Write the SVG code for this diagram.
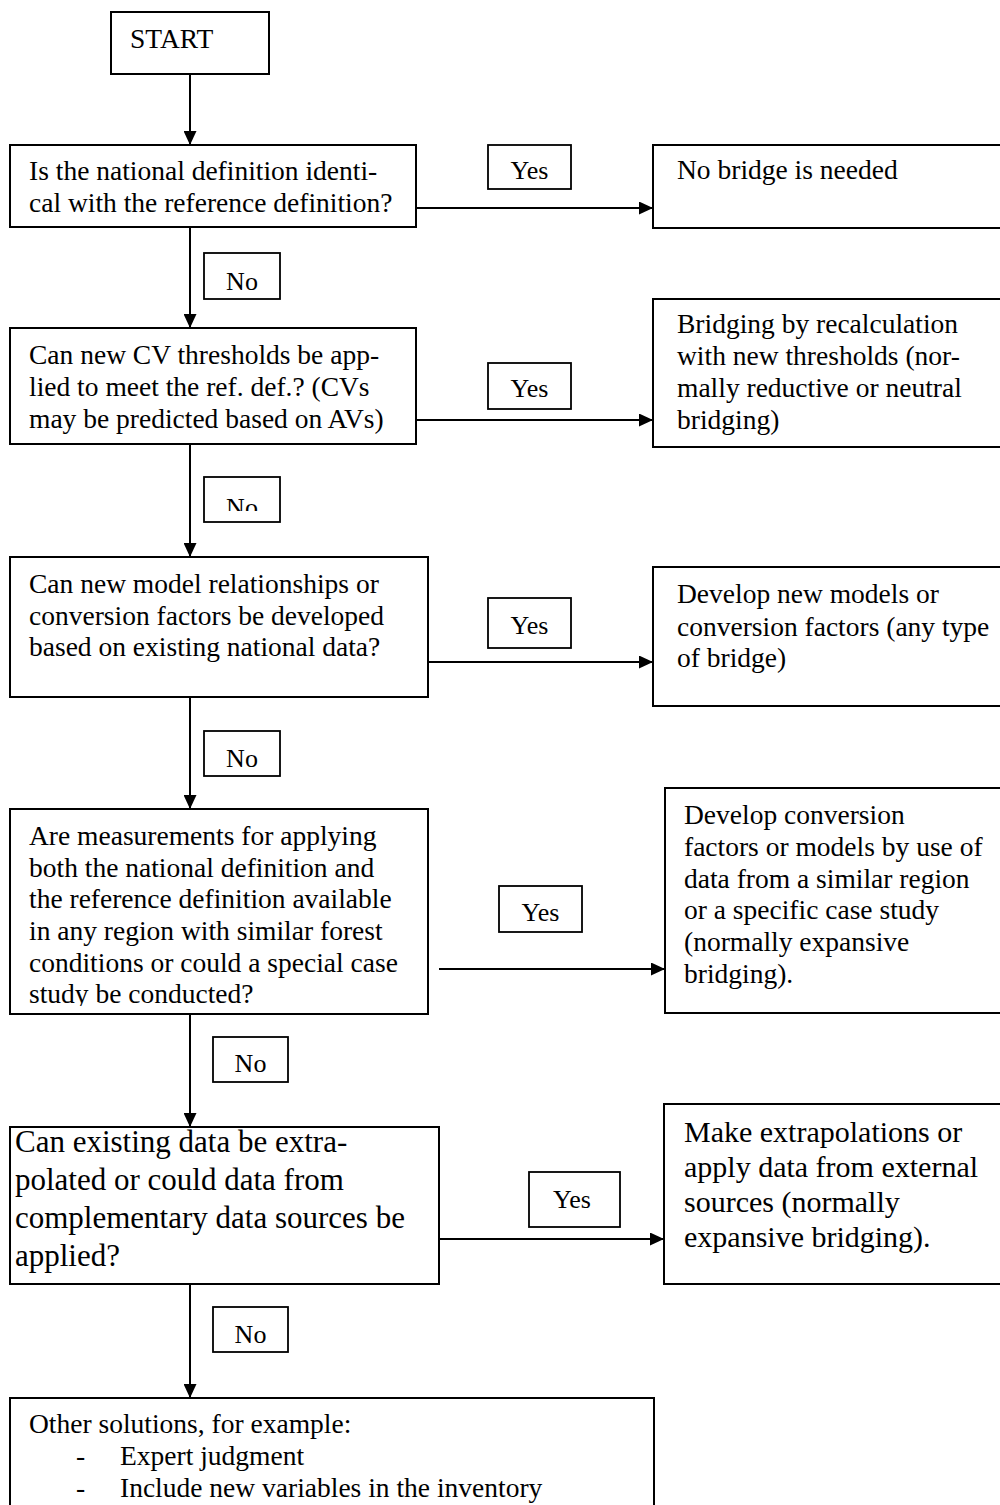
<svg xmlns="http://www.w3.org/2000/svg" width="1000" height="1505" viewBox="0 0 1000 1505">
<style>
.box{fill:#fff;stroke:#000;stroke-width:2}
.lbl{fill:#fff;stroke:#000;stroke-width:1.8}
.t{font-family:"Liberation Serif","Times New Roman",serif;font-size:27.5px;fill:#000}
.tb{font-family:"Liberation Serif","Times New Roman",serif;font-size:31px;fill:#000}
.tr{font-family:"Liberation Serif","Times New Roman",serif;font-size:30px;fill:#000}
.tl{font-family:"Liberation Serif","Times New Roman",serif;font-size:26px;fill:#000;text-anchor:middle}
.c{stroke:#000;stroke-width:2;fill:none;marker-end:url(#ah)}
</style>
<defs>
<marker id="ah" markerUnits="userSpaceOnUse" markerWidth="14" markerHeight="13" viewBox="0 0 14 13" refX="14" refY="6.5" orient="auto">
<path d="M0,0 L14,6.5 L0,13 z" fill="#000"/>
</marker>
<clipPath id="clipNo2"><rect x="204" y="477" width="76" height="34"/></clipPath>
<clipPath id="clipB4"><rect x="10" y="809" width="418" height="197"/></clipPath>
</defs>
<rect width="1000" height="1505" fill="#fff"/>

<g id="connectors">
<line class="c" x1="190" y1="74" x2="190" y2="145"/>
<line class="c" x1="190" y1="227" x2="190" y2="328"/>
<line class="c" x1="190" y1="444" x2="190" y2="557"/>
<line class="c" x1="190" y1="697" x2="190" y2="809"/>
<line class="c" x1="190" y1="1014" x2="190" y2="1127"/>
<line class="c" x1="190" y1="1284" x2="190" y2="1398"/>
<line class="c" x1="416" y1="208" x2="653" y2="208"/>
<line class="c" x1="416" y1="420" x2="653" y2="420"/>
<line class="c" x1="428" y1="662" x2="653" y2="662"/>
<line class="c" x1="439" y1="969" x2="665" y2="969"/>
<line class="c" x1="439" y1="1239" x2="664" y2="1239"/>
</g>

<g id="start">
<rect class="box" x="111" y="12" width="158" height="62"/>
<text class="t" x="130" y="48">START</text>
</g>

<g id="q1">
<rect class="box" x="10" y="145" width="406" height="82"/>
<text class="t" x="29" y="180">Is the national definition identi-</text>
<text class="t" x="29" y="212">cal with the reference definition?</text>
</g>
<g id="yes1">
<rect class="lbl" x="488" y="145" width="83" height="44"/>
<text class="tl" x="529.5" y="179">Yes</text>
</g>
<g id="r1">
<rect class="box" x="653" y="145" width="360" height="83"/>
<text class="t" x="677" y="179">No bridge is needed</text>
</g>
<g id="no1">
<rect class="lbl" x="204" y="253" width="76" height="46"/>
<text class="tl" x="242" y="290">No</text>
</g>

<g id="q2">
<rect class="box" x="10" y="328" width="406" height="116"/>
<text class="t" x="29" y="364">Can new CV thresholds be app-</text>
<text class="t" x="29" y="396">lied to meet the ref. def.? (CVs</text>
<text class="t" x="29" y="428">may be predicted based on AVs)</text>
</g>
<g id="yes2">
<rect class="lbl" x="488" y="363" width="83" height="46"/>
<text class="tl" x="529.5" y="397">Yes</text>
</g>
<g id="r2">
<rect class="box" x="653" y="299" width="360" height="148"/>
<text class="t" x="677" y="333">Bridging by recalculation</text>
<text class="t" x="677" y="365">with new thresholds (nor-</text>
<text class="t" x="677" y="397">mally reductive or neutral</text>
<text class="t" x="677" y="429">bridging)</text>
</g>
<g id="no2">
<rect class="lbl" x="204" y="477" width="76" height="45"/>
<text class="tl" x="242" y="516" clip-path="url(#clipNo2)">No</text>
</g>

<g id="q3">
<rect class="box" x="10" y="557" width="418" height="140"/>
<text class="t" x="29" y="593">Can new model relationships or</text>
<text class="t" x="29" y="625">conversion factors be developed</text>
<text class="t" x="29" y="656">based on existing national data?</text>
</g>
<g id="yes3">
<rect class="lbl" x="488" y="598" width="83" height="50"/>
<text class="tl" x="529.5" y="634">Yes</text>
</g>
<g id="r3">
<rect class="box" x="653" y="567" width="360" height="139"/>
<text class="t" x="677" y="603">Develop new models or</text>
<text class="t" x="677" y="636">conversion factors (any type</text>
<text class="t" x="677" y="667">of bridge)</text>
</g>
<g id="no3">
<rect class="lbl" x="204" y="731" width="76" height="45"/>
<text class="tl" x="242" y="767">No</text>
</g>

<g id="q4">
<rect class="box" x="10" y="809" width="418" height="205"/>
<g clip-path="url(#clipB4)">
<text class="t" x="29" y="845">Are measurements for applying</text>
<text class="t" x="29" y="877">both the national definition and</text>
<text class="t" x="29" y="908">the reference definition available</text>
<text class="t" x="29" y="940">in any region with similar forest</text>
<text class="t" x="29" y="972">conditions or could a special case</text>
<text class="t" x="29" y="1003">study be conducted?</text>
</g>
</g>
<g id="yes4">
<rect class="lbl" x="499" y="886" width="83" height="46"/>
<text class="tl" x="540.5" y="921">Yes</text>
</g>
<g id="r4">
<rect class="box" x="665" y="788" width="350" height="225"/>
<text class="t" x="684" y="824">Develop conversion</text>
<text class="t" x="684" y="856">factors or models by use of</text>
<text class="t" x="684" y="888">data from a similar region</text>
<text class="t" x="684" y="919">or a specific case study</text>
<text class="t" x="684" y="951">(normally expansive</text>
<text class="t" x="684" y="983">bridging).</text>
</g>
<g id="no4">
<rect class="lbl" x="213" y="1037" width="75" height="45"/>
<text class="tl" x="250.5" y="1072">No</text>
</g>

<g id="q5">
<rect class="box" x="10" y="1127" width="429" height="157"/>
<text class="tb" x="15" y="1152">Can existing data be extra-</text>
<text class="tb" x="15" y="1190">polated or could data from</text>
<text class="tb" x="15" y="1228">complementary data sources be</text>
<text class="tb" x="15" y="1266">applied?</text>
</g>
<g id="yes5">
<rect class="lbl" x="529" y="1172" width="91" height="55"/>
<text class="tl" x="572" y="1208">Yes</text>
</g>
<g id="r5">
<rect class="box" x="664" y="1104" width="350" height="180"/>
<text class="tr" x="684" y="1142">Make extrapolations or</text>
<text class="tr" x="684" y="1177">apply data from external</text>
<text class="tr" x="684" y="1212">sources (normally</text>
<text class="tr" x="684" y="1247">expansive bridging).</text>
</g>
<g id="no5">
<rect class="lbl" x="213" y="1307" width="75" height="45"/>
<text class="tl" x="250.5" y="1343">No</text>
</g>

<g id="other">
<rect class="box" x="10" y="1398" width="644" height="130"/>
<text class="t" x="29" y="1433">Other solutions, for example:</text>
<text class="t" x="76" y="1465">-</text>
<text class="t" x="120" y="1465">Expert judgment</text>
<text class="t" x="76" y="1497">-</text>
<text class="t" x="120" y="1497">Include new variables in the inventory</text>
</g>
</svg>
